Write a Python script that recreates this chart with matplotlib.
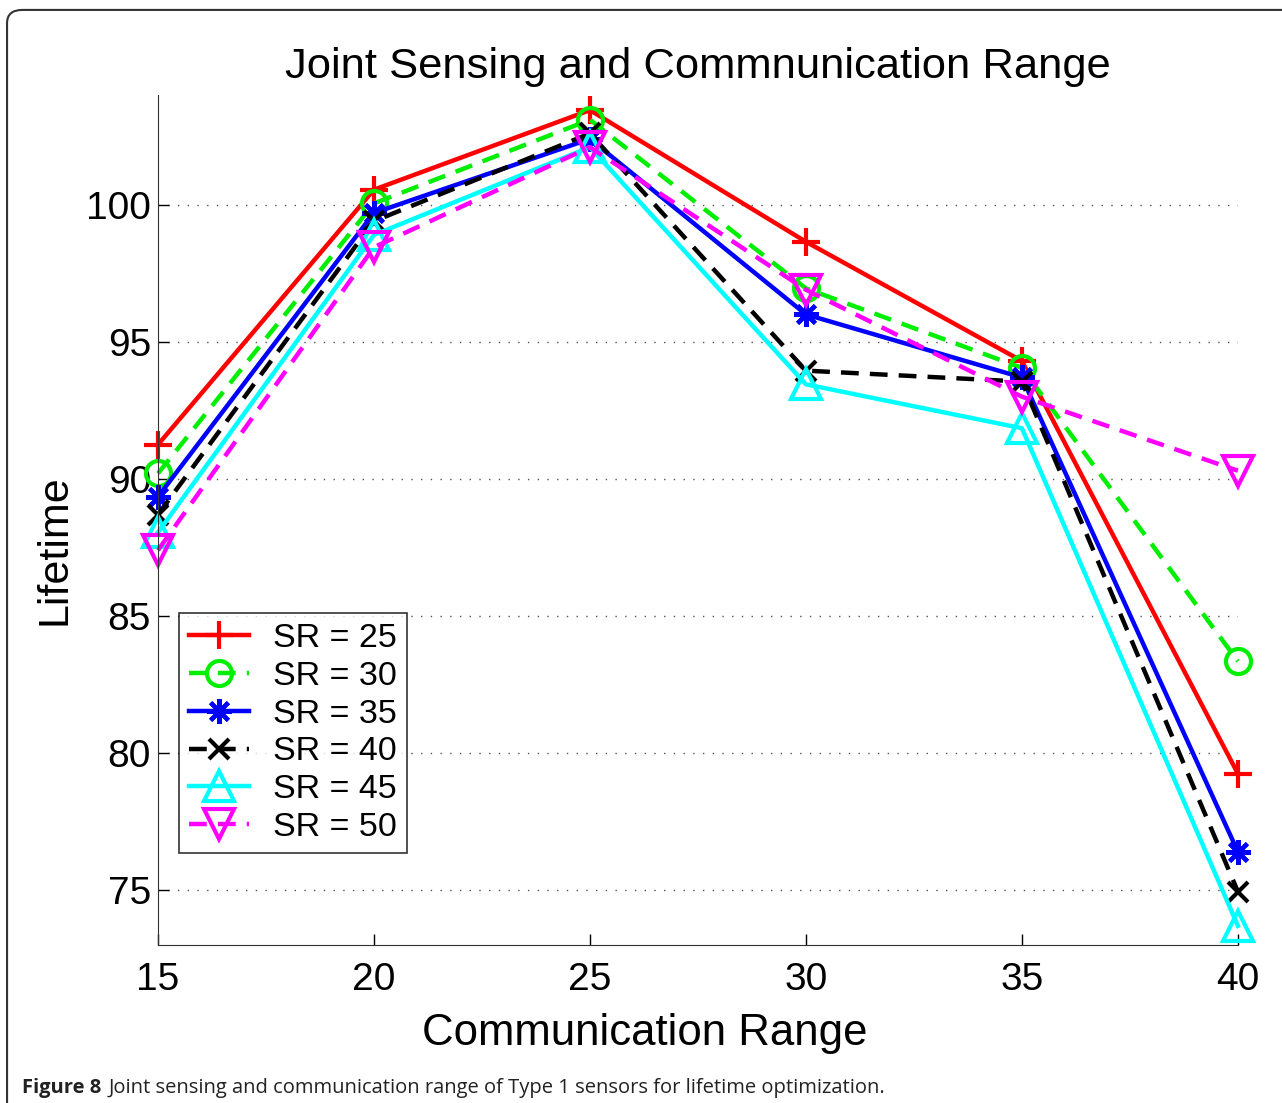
import numpy as np
import matplotlib.pyplot as plt
from matplotlib.patches import FancyBboxPatch

plt.rcParams['font.family'] = ['Liberation Sans', 'DejaVu Sans']

# 数据: 通信范围 vs 生命周期
comm_range = [15, 20, 25, 30, 35, 40]
sr25 = [91.25, 100.55, 103.45, 98.65, 94.3, 79.25]
sr30 = [90.2, 100.05, 103.1, 96.95, 94.05, 83.35]
sr35 = [89.35, 99.7, 102.4, 96.0, 93.7, 76.4]
sr40 = [88.7, 99.4, 102.6, 93.95, 93.55, 74.95]
sr45 = [88.05, 98.9, 102.1, 93.45, 91.85, 73.7]
sr50 = [87.4, 98.45, 102.1, 96.9, 93.0, 90.3]
labels = ['SR = 25', 'SR = 30', 'SR = 35', 'SR = 40', 'SR = 45', 'SR = 50']
yticks = [75, 80, 85, 90, 95, 100]

fig = plt.figure(figsize=(12.82, 11.03), dpi=100)

# 期刊风格的圆角外框
frame = FancyBboxPatch((0.0055, -0.05), 1.2, 1.041, boxstyle='round,pad=0,rounding_size=0.012',
                       transform=fig.transFigure, facecolor='none', edgecolor='#333333', lw=1.5)
fig.patches.append(frame)

ax = fig.add_axes([0.1232, 0.1432, 0.8424, 0.7706])

series = [sr25, sr30, sr35, sr40, sr45, sr50]
colors = ['#ff0000', '#00ee00', '#0000ff', '#000000', '#00ffff', '#ff00ff']
styles = ['-', '--', '-', '--', '-', '--']
markers = ['+', 'o', (8, 2, 0), 'x', '^', 'v']
msizes = [20, 18, 18, 14, 22, 22]

for ys, c, ls, m, ms, lab in zip(series, colors, styles, markers, msizes, labels):
    ax.plot(comm_range, ys, color=c, linestyle=ls, marker=m, markersize=ms,
            markerfacecolor='none', markeredgecolor=c, markeredgewidth=3,
            lw=3.2, label=lab, clip_on=False,
            dashes=(4, 2.5) if ls == '--' else (None, None))

ax.set_xlim(15, 40)
ax.set_ylim(73, 104)
ax.set_xticks(comm_range)
ax.set_yticks(yticks)
ax.tick_params(direction='in', labelsize=28, length=8, width=1)
ax.tick_params(axis='y', pad=5)
ax.tick_params(axis='x', pad=12)
ax.yaxis.grid(True, linestyle=(0, (1, 6)), color='#555555', lw=1)
ax.spines['top'].set_visible(False)
ax.spines['right'].set_visible(False)
ax.spines['left'].set_color('#333333')
ax.spines['bottom'].set_color('#333333')

ax.set_title('Joint Sensing and Commnunication Range', fontsize=31.3, pad=12)
ax.set_xlabel('Communication Range', fontsize=31.5)
ax.set_ylabel('Lifetime', fontsize=31)
ax.xaxis.set_label_coords(0.451, -0.080)
ax.yaxis.set_label_coords(-0.077, 0.465)

leg = ax.legend(loc='lower left', bbox_to_anchor=(0.0195, 0.108), fontsize=24.5,
                frameon=True, fancybox=False, edgecolor='black', borderpad=0.3,
                handlelength=1.75, handletextpad=0.7, labelspacing=0.2, borderaxespad=0)
leg.get_frame().set_linewidth(1.2)

fig.text(0.017, 0.009, 'Figure 8', fontsize=14.5, fontweight='bold', family=['Open Sans', 'DejaVu Sans'],
         color='#222222')
fig.text(0.085, 0.009, 'Joint sensing and communication range of Type 1 sensors for lifetime optimization.',
         fontsize=14.5, family=['Open Sans', 'DejaVu Sans'], color='#222222')

fig.savefig('out.png', dpi=100)
